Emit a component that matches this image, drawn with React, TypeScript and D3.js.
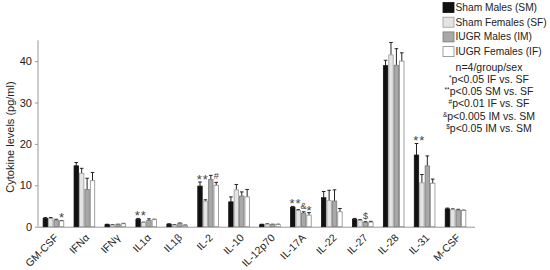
import { useRef, useEffect } from 'react'
import * as d3 from 'd3'

// Cytokine levels by group (pg/ml)
const categories = ['GM-CSF', 'IFNα', 'IFNγ', 'IL1α', 'IL1β', 'IL-2', 'IL-10', 'IL-12p70', 'IL-17A', 'IL-22', 'IL-27', 'IL-28', 'IL-31', 'M-CSF']
const groups = ['SM', 'SF', 'IM', 'IF']
const groupNames = ['Sham Males (SM)', 'Sham Females (SF)', 'IUGR Males (IM)', 'IUGR Females (IF)']

const smValues = [2.0, 14.7, 0.5, 1.8, 0.6, 9.8, 6.0, 0.5, 4.7, 7.0, 1.8, 38.9, 17.3, 4.3]
const sfValues = [2.0, 12.9, 0.4, 1.0, 0.4, 6.2, 8.9, 0.6, 3.9, 6.3, 1.5, 41.5, 10.6, 4.1]
const imValues = [1.6, 9.0, 0.5, 1.5, 0.8, 11.4, 7.4, 0.5, 3.3, 6.2, 1.0, 39.0, 14.7, 4.0]
const ifValues = [1.4, 11.1, 0.7, 1.7, 0.3, 10.0, 7.2, 0.5, 2.8, 3.6, 1.1, 40.0, 10.5, 3.9]

const smErrors = [0.2, 0.8, 0.1, 0.2, 0.1, 1.0, 1.2, 0.1, 0.2, 1.5, 0.2, 1.3, 2.8, 0.2]
const sfErrors = [0.2, 1.2, 0.1, 0.1, 0.1, 0.3, 1.3, 0.1, 0.2, 2.5, 0.2, 3.0, 2.0, 0.2]
const imErrors = [0.2, 2.7, 0.1, 0.4, 0.1, 1.0, 1.0, 0.1, 0.3, 2.7, 0.2, 4.0, 2.4, 0.2]
const ifErrors = [0.1, 2.0, 0.1, 0.1, 0.1, 0.7, 1.8, 0.1, 0.6, 0.8, 0.2, 2.0, 1.0, 0.1]

const yTicks = [0, 10, 20, 30, 40]

// significance markers: category, group position (can be fractional), symbol
const markers = [
  { cat: 'GM-CSF', pos: 3, sym: '*' },
  { cat: 'IL1α', pos: 0.5, sym: '**' },
  { cat: 'IL-2', pos: 0.5, sym: '**' },
  { cat: 'IL-2', pos: 3, sym: '#' },
  { cat: 'IL-17A', pos: 0.5, sym: '**' },
  { cat: 'IL-17A', pos: 2, sym: '&' },
  { cat: 'IL-17A', pos: 3, sym: '*' },
  { cat: 'IL-27', pos: 2, sym: '$' },
  { cat: 'IL-31', pos: 0.5, sym: '**' },
]

const statLines = [
  ['', 'n=4/group/sex'],
  ['*', 'p<0.05 IF vs. SF'],
  ['**', 'p<0.05 SM vs. SF'],
  ['#', 'p<0.01 IF vs. SF'],
  ['&', 'p<0.005 IM vs. SM'],
  ['$', 'p<0.05 IM vs. SM'],
]

const fills = ['#111111', '#e4e4e4', '#a8a8a8', '#ffffff']
const strokes = ['#111111', '#9a9a9a', '#7a7a7a', '#8a8a8a']

export default function App() {
  const svgRef = useRef<SVGSVGElement>(null)

  useEffect(() => {
    if (!svgRef.current) return
    const svg = d3.select(svgRef.current)
    svg.selectAll('*').remove()

    const font = 'Liberation Sans, Arial, sans-serif'
    const values = [smValues, sfValues, imValues, ifValues]
    const errors = [smErrors, sfErrors, imErrors, ifErrors]

    const x = d3.scaleBand().domain(categories).range([38, 471]).paddingInner(0.3).paddingOuter(0.15)
    const xs = d3.scaleBand().domain(groups).range([0, x.bandwidth()])
    const y = d3.scaleLinear().domain([0, 45]).range([226.7, 40.4])

    // y axis
    const ya = svg.append('g')
      .attr('transform', 'translate(38,0)')
      .call(d3.axisLeft(y).tickValues(yTicks).tickSize(3).tickPadding(3))
    ya.select('.domain').attr('d', `M0,${y(45)}V${y(0)}`).style('stroke', '#999')
    ya.selectAll('.tick line').style('stroke', '#999')
    ya.selectAll('text').style('font-family', font).style('font-size', '11px').style('fill', '#222')

    // x axis line
    svg.append('line')
      .attr('x1', 38).attr('x2', 475).attr('y1', y(0) + 0.5).attr('y2', y(0) + 0.5)
      .style('stroke', '#999')

    // rotated category labels
    svg.append('g').selectAll('text')
      .data(categories)
      .join('text')
      .attr('transform', d => `translate(${(x(d) ?? 0) + x.bandwidth() / 2 + 3},${y(0) + 9}) rotate(-45)`)
      .attr('text-anchor', 'end')
      .attr('dy', '0.35em')
      .style('font-family', font).style('font-size', '10.5px').style('fill', '#222')
      .text(d => d)

    // bars
    groups.forEach((gname, gi) => {
      const g = svg.append('g')
      categories.forEach((cat, ci) => {
        const bx = (x(cat) ?? 0) + (xs(gname) ?? 0)
        const v = values[gi][ci]
        const e = errors[gi][ci]
        const cx = bx + xs.bandwidth() / 2
        // error bar
        g.append('line')
          .attr('x1', cx).attr('x2', cx).attr('y1', y(v)).attr('y2', y(v + e))
          .style('stroke', '#222').style('stroke-width', 1)
        g.append('line')
          .attr('x1', cx - 1.8).attr('x2', cx + 1.8).attr('y1', y(v + e)).attr('y2', y(v + e))
          .style('stroke', '#222').style('stroke-width', 1)
        g.append('rect')
          .attr('x', bx + 0.5).attr('y', y(v))
          .attr('width', xs.bandwidth() - 1).attr('height', y(0) - y(v))
          .style('fill', fills[gi]).style('stroke', strokes[gi]).style('stroke-width', 0.8)
      })
    })

    // significance markers
    markers.forEach(m => {
      const ci = categories.indexOf(m.cat)
      const step = xs.bandwidth()
      const cx = (x(m.cat) ?? 0) + step * m.pos + step / 2
      const lo = Math.floor(m.pos), hi = Math.ceil(m.pos)
      const top = Math.max(values[lo][ci] + errors[lo][ci], values[hi][ci] + errors[hi][ci])
      const star = m.sym.startsWith('*')
      svg.append('text')
        .attr('x', cx).attr('y', y(top) - 3 + (star ? 5 : 0))
        .attr('text-anchor', 'middle')
        .style('font-family', font).style('font-size', star ? '13px' : '9px')
        .style('letter-spacing', m.sym === '**' ? '1px' : '0px')
        .style('fill', '#444')
        .text(m.sym)
    })

    // y label
    svg.append('text')
      .attr('transform', 'translate(14,137) rotate(-90)')
      .attr('text-anchor', 'middle')
      .style('font-family', font).style('font-size', '11px').style('fill', '#222')
      .text('Cytokine levels (pg/ml)')

    // legend
    groupNames.forEach((name, i) => {
      const ly = 7 + i * 14.7
      svg.append('rect')
        .attr('x', 443).attr('y', ly - 4.5).attr('width', 11).attr('height', 10)
        .style('fill', fills[i]).style('stroke', strokes[i]).style('stroke-width', 0.8)
      svg.append('text')
        .attr('x', 455.5).attr('y', ly + 4)
        .style('font-family', font).style('font-size', '10.2px').style('fill', '#222')
        .text(name)
    })

    // stats note
    statLines.forEach(([sup, txt], i) => {
      const t = svg.append('text')
        .attr('x', 489).attr('y', 70.5 + i * 12.3)
        .attr('text-anchor', 'middle')
        .style('font-family', font).style('font-size', '10.5px').style('fill', '#222')
      if (sup) t.append('tspan').attr('dy', -3).style('font-size', '6.5px').text(sup)
      t.append('tspan').attr('dy', sup ? 3 : 0).text(txt)
    })
  }, [])

  return (
    <svg ref={svgRef} width={550} height={270}
      style={{ position: 'absolute', left: 0, top: 0, background: '#fff' }} />
  )
}
